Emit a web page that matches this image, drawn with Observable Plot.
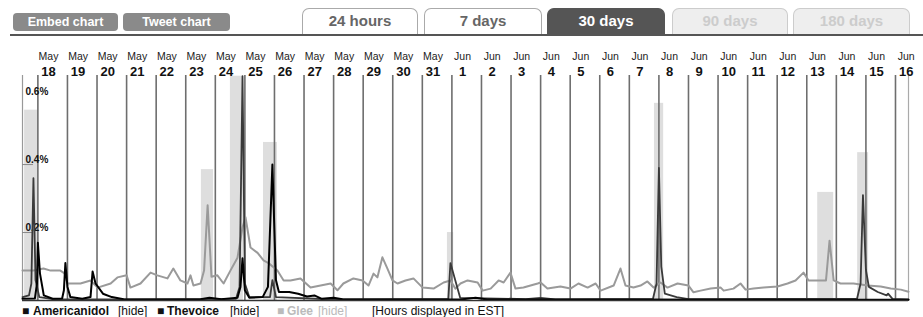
<!DOCTYPE html>
<html>
<head>
<meta charset="utf-8">
<script src="https://cdn.jsdelivr.net/npm/d3@7"></script>
<script src="https://cdn.jsdelivr.net/npm/@observablehq/plot@0.6"></script>
<style>
  html, body { margin: 0; padding: 0; background: #fff; font-family: "Liberation Sans", Arial, Helvetica, sans-serif; }
  #page { position: relative; width: 923px; height: 317px; overflow: hidden; }
  #hdr { position: relative; height: 40px; }
  .btn { position: absolute; top: 13px; height: 18px; line-height: 18px; border-radius: 4px; background: #8a8a8a; color: #fff; font-weight: bold; font-size: 12.5px; text-align: center; }
  .tab { position: absolute; top: 8px; height: 26px; line-height: 24px; border: 1px solid #aaa; border-bottom: none; border-radius: 7px 7px 0 0; background: #fff; color: #666; font-weight: bold; font-size: 15px; text-align: center; box-sizing: border-box; }
  .tab.on { background: #555; color: #fff; border-color: #555; }
  .tab.off { background: #eee; color: #ccc; border-color: #ccc; }
  #hline { position: absolute; left: 10px; top: 34px; width: 913px; height: 2px; background: #555; }
  #chart svg { display: block; }
  #legend { position: relative; height: 14px; font-size: 12px; color: #111; }
  #legend span { position: absolute; top: 1px; white-space: nowrap; line-height: 14px; }
  .b { font-weight: bold; }
</style>
</head>
<body>
<div id="page">
  <div id="hdr">
    <div class="btn" style="left:13px;width:105px">Embed chart</div>
    <div class="btn" style="left:123px;width:107px">Tweet chart</div>
    <div class="tab" style="left:302px;width:116px">24 hours</div>
    <div class="tab" style="left:424px;width:118px">7 days</div>
    <div class="tab on" style="left:547px;width:118px">30 days</div>
    <div class="tab off" style="left:672px;width:116px">90 days</div>
    <div class="tab off" style="left:793px;width:117px">180 days</div>
    <div id="hline"></div>
  </div>
  <div id="chart"></div>
  <div id="legend">
    <span class="b" style="left:22px">&#9632;</span>
    <span class="b" style="left:33px">Americanidol</span>
    <span style="left:118px">[hide]</span>
    <span class="b" style="left:157px">&#9632;</span>
    <span class="b" style="left:167px">Thevoice</span>
    <span style="left:230px">[hide]</span>
    <span class="b" style="left:277px;color:#bbb">&#9632;</span>
    <span class="b" style="left:287px;color:#bbb">Glee</span>
    <span style="left:318px;color:#bbb">[hide]</span>
    <span style="left:372px">[Hours displayed in EST]</span>
  </div>
</div>
<script>
// Day labels (day index 0 = May 18)
const dayMonths = ["May","May","May","May","May","May","May","May","May","May","May","May","May","May",
  "Jun","Jun","Jun","Jun","Jun","Jun","Jun","Jun","Jun","Jun","Jun","Jun","Jun","Jun","Jun","Jun"];
const dayNums = ["18","19","20","21","22","23","24","25","26","27","28","29","30","31",
  "1","2","3","4","5","6","7","8","9","10","11","12","13","14","15","16"];

// y tick values (% of tweets)
const yTicks = [0.2, 0.4, 0.6];

// Highlighted peak bands: [start day, end day, value %]
const peakBands = [
  [-0.45, 0.02, 0.56],
  [5.53, 5.94, 0.385],
  [6.51, 6.95, 0.66],
  [7.63, 8.10, 0.465],
  [13.85, 14.06, 0.20],
  [20.85, 21.16, 0.58],
  [26.37, 26.91, 0.318],
  [27.72, 28.09, 0.435]
];

// Series: [day offset, % of tweets]
const glee = [
  [-0.52,0.088],[-0.15,0.088],[0.19,0.094],[0.43,0.088],[0.76,0.088],[0.9,0.08],[1.0,0.05],[1.44,0.05],
  [1.78,0.059],[2.02,0.038],[2.46,0.05],[2.69,0.068],[3.0,0.074],[3.13,0.038],[3.47,0.05],[3.81,0.082],
  [4.04,0.074],[4.38,0.065],[4.58,0.094],[4.82,0.059],[5.06,0.05],[5.16,0.074],[5.26,0.044],[5.5,0.05],
  [5.62,0.088],[5.74,0.28],[5.87,0.07],[6.07,0.074],[6.28,0.05],[6.51,0.088],[6.75,0.126],[6.92,0.215],
  [7.02,0.245],[7.19,0.156],[7.43,0.14],[7.63,0.118],[7.80,0.11],[8.10,0.088],[8.31,0.059],[8.54,0.059],
  [8.88,0.065],[9.22,0.038],[9.56,0.044],[9.90,0.05],[10.13,0.03],[10.33,0.05],[10.67,0.065],[10.98,0.059],
  [11.18,0.044],[11.35,0.079],[11.48,0.068],[11.65,0.127],[11.82,0.094],[11.99,0.059],[12.16,0.05],
  [12.43,0.059],[12.70,0.065],[13.01,0.038],[13.38,0.035],[13.72,0.053],[13.95,0.059],[14.12,0.035],
  [14.29,0.05],[14.53,0.059],[14.87,0.053],[15.04,0.029],[15.31,0.035],[15.58,0.059],[15.75,0.053],
  [15.98,0.082],[16.15,0.035],[16.42,0.038],[16.90,0.05],[17.0,0.053],[17.23,0.035],[17.67,0.041],
  [18.01,0.035],[18.28,0.05],[18.59,0.038],[18.86,0.05],[19.03,0.029],[19.47,0.044],[19.70,0.094],
  [19.87,0.044],[20.14,0.038],[20.38,0.044],[20.61,0.056],[20.82,0.038],[21.05,0.053],[21.29,0.038],
  [21.63,0.05],[22.0,0.044],[22.17,0.024],[22.41,0.029],[22.75,0.035],[23.09,0.038],[23.19,0.029],
  [23.52,0.035],[23.76,0.05],[23.93,0.032],[24.20,0.035],[24.54,0.038],[25.01,0.041],[25.35,0.05],
  [25.62,0.059],[25.89,0.082],[26.06,0.059],[26.37,0.059],[26.65,0.059],[26.77,0.176],[26.91,0.059],
  [27.14,0.05],[27.58,0.05],[28.06,0.044],[28.50,0.041],[28.84,0.035],[29.18,0.032],[29.44,0.026]
];

const thevoice = [
  [-0.52,0.01],[-0.3,0.015],[-0.22,0.05],[-0.15,0.36],[-0.08,0.06],[0.05,0.01],[0.5,0.004],[3.0,0.003],
  [6.7,0.005],[6.82,0.04],[6.92,0.66],[7.0,0.05],[7.15,0.01],[7.85,0.01],[7.93,0.06],[8.05,0.01],
  [10.0,0.003],[13.88,0.005],[13.95,0.11],[14.28,0.008],[16.5,0.004],[17.0,0.008],[17.5,0.003],
  [20.8,0.005],[20.92,0.05],[21.0,0.39],[21.08,0.1],[21.2,0.02],[21.6,0.01],[22.0,0.004],
  [27.7,0.005],[27.82,0.05],[27.9,0.31],[28.0,0.09],[28.1,0.04],[28.4,0.025],[28.7,0.015],
  [28.75,0.02],[28.9,0.005],[29.44,0.003]
];

const americanidol = [
  [-0.52,0.005],[-0.1,0.006],[-0.03,0.05],[0.0,0.17],[0.07,0.08],[0.2,0.015],[0.5,0.005],[0.82,0.006],
  [0.88,0.03],[0.93,0.11],[1.0,0.04],[1.1,0.01],[1.5,0.005],[1.78,0.01],[1.85,0.085],[1.95,0.05],
  [2.2,0.02],[2.5,0.01],[2.9,0.004],[4.0,0.003],[5.5,0.004],[5.8,0.008],[6.2,0.004],[6.75,0.008],
  [6.85,0.04],[6.92,0.124],[7.0,0.03],[7.15,0.008],[7.6,0.01],[7.78,0.04],[7.93,0.40],[8.05,0.06],
  [8.15,0.025],[8.5,0.025],[8.8,0.02],[9.1,0.012],[9.35,0.015],[9.6,0.005],[10.0,0.008],[10.3,0.004],
  [13.0,0.003],[14.3,0.003],[14.8,0.008],[15.2,0.003],[20.0,0.003],[29.44,0.002]
];

const xMin = -0.52, xMax = 29.44;
const dayIdx = d3.range(dayNums.length);

const chart = Plot.plot({
  width: 923,
  height: 263,
  marginTop: 35,
  marginBottom: 3,
  marginLeft: 22,
  marginRight: 15,
  x: {domain: [xMin, xMax], axis: null},
  y: {domain: [0, 0.662], axis: null},
  style: {fontFamily: "'Liberation Sans', Arial, sans-serif", background: "transparent"},
  marks: [
    Plot.rectY(peakBands, {x1: d => d[0], x2: d => d[1], y: d => d[2], fill: "#cccccc", fillOpacity: 0.65}),
    Plot.ruleX(dayIdx, {x: d => d, stroke: "#6e6e6e", strokeWidth: 1.6}),
    Plot.ruleX([xMin], {stroke: "#999", strokeWidth: 1.2}),
    Plot.ruleX([xMax], {stroke: "#aaa", strokeWidth: 1.2}),
    Plot.ruleY(yTicks.slice(0, 2), {y: d => d, x1: xMin, x2: -0.15, stroke: "#888", strokeWidth: 1}),
    Plot.text(yTicks, {x: xMin, y: d => d, text: d => d.toFixed(1) + "%", textAnchor: "start", dx: 3, dy: -5,
      fontSize: 10, fontWeight: "bold", fill: "#111"}),
    Plot.line(glee, {x: d => d[0], y: d => d[1], stroke: "#9a9a9a", strokeWidth: 2}),
    Plot.line(thevoice, {x: d => d[0], y: d => d[1], stroke: "#3a3a3a", strokeWidth: 1.8}),
    Plot.line(americanidol, {x: d => d[0], y: d => d[1], stroke: "#000", strokeWidth: 2}),
    Plot.ruleY([0], {x1: xMin, x2: xMax, stroke: "#333", strokeWidth: 1.5}),
    Plot.text(dayIdx, {x: d => d + 0.36, text: d => dayMonths[d], frameAnchor: "top", dy: -23,
      fontSize: 10.5, fill: "#222"}),
    Plot.text(dayIdx, {x: d => d + 0.36, text: d => dayNums[d], frameAnchor: "top", dy: -9,
      fontSize: 13, fontWeight: "bold", fill: "#111"})
  ]
});
document.getElementById("chart").appendChild(chart);
</script>
</body>
</html>
